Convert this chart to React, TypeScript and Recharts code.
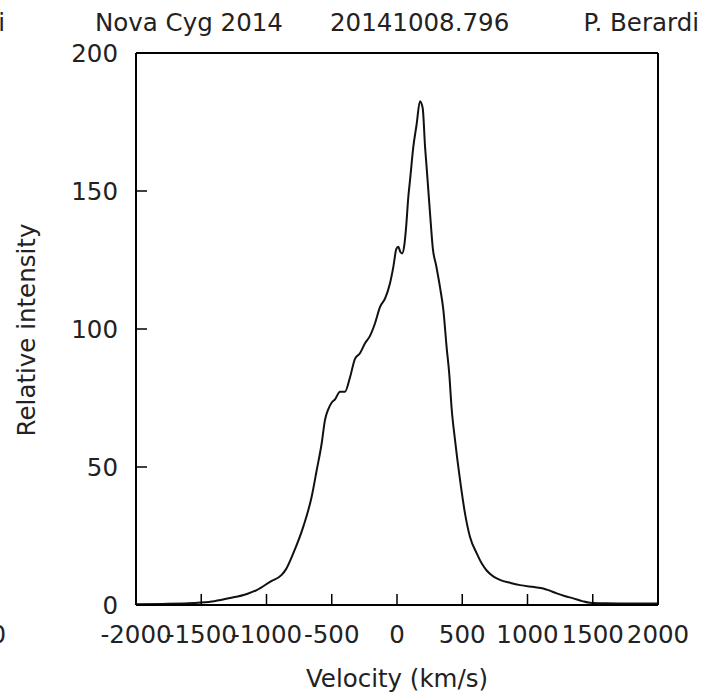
import React from 'react';
import { LineChart, Line, XAxis, YAxis } from 'recharts';

const velocity = [
  -2000, -1800, -1600, -1500, -1400, -1280, -1150, -1075, -973, -884, -850, -795, -718, -654, -615,
  -577, -552, -526, -501, -475, -437, -398, -360, -322, -284, -245, -207, -169, -130, -92, -54, -28,
  -5, 10, 25, 40, 55, 70, 87, 100, 125, 150, 176, 197, 215, 228, 253, 275, 300, 330, 355, 381, 400,
  419, 444, 483, 521, 559, 611, 650, 687, 740, 789, 870, 943, 1050, 1121, 1170, 1224, 1290, 1351,
  1420, 1479, 1600, 1800, 2000,
];

const intensity = [
  0.3, 0.4, 0.6, 0.9, 1.4, 2.5, 4.0, 5.4, 8.4, 10.9, 13, 18.7, 28.4, 39.2, 48.9,
  58.6, 67, 71, 73.3, 74.5, 77.3, 77.3, 82.5, 89.2, 91.2, 94.8, 97.5, 102, 108, 111, 116.5, 122.5,
  129, 129.8, 128, 127.4, 130, 137, 148, 154, 166, 174, 182.5, 180, 166, 158, 142, 129, 123, 115, 107, 93, 84,
  71, 60, 45.3, 33.2, 24.7, 18.7, 15, 12.5, 10.3, 9.1, 8, 7.2, 6.5, 6.0, 5.2, 4.2, 3.2, 2.4,
  1.4, 0.8, 0.6, 0.5, 0.5,
];

const xTicks = [-2000, -1500, -1000, -500, 0, 500, 1000, 1500, 2000];
const yTicks = [0, 50, 100, 150, 200];

const data = velocity.map((v, i) => ({ v, y: intensity[i] }));

const FONT = '"DejaVu Sans", Verdana, sans-serif';
const FS = 24.5;
const TEXT = '#222';
const TICK = 11;

const BottomTick = ({ x, y, payload }: any) => (
  <g>
    <line x1={x} y1={y} x2={x} y2={y - TICK} stroke="#000" strokeWidth={1.5} />
    <text x={x} y={y + 29} textAnchor="middle" dominantBaseline="central" fontFamily={FONT} fontSize={FS} fill={TEXT}>
      {payload.value}
    </text>
  </g>
);

const TopTick = ({ x, y }: any) => (
  <line x1={x} y1={y} x2={x} y2={y + TICK} stroke="#000" strokeWidth={1.5} />
);

const LeftTick = ({ x, y, payload }: any) => (
  <g>
    <line x1={x} y1={y} x2={x + TICK} y2={y} stroke="#000" strokeWidth={1.5} />
    <text x={x - 18} y={y} textAnchor="end" dominantBaseline="central" fontFamily={FONT} fontSize={FS} fill={TEXT}>
      {payload.value}
    </text>
  </g>
);

const RightTick = ({ x, y }: any) => (
  <line x1={x} y1={y} x2={x - TICK} y2={y} stroke="#000" strokeWidth={1.5} />
);

const axisLine = { stroke: '#000', strokeWidth: 2 };

export default function App() {
  return (
    <div style={{ position: 'absolute', left: 0, top: 0, width: 708, height: 693, background: '#fff' }}>
      <LineChart width={708} height={693} data={data} margin={{ top: 0, right: 0, bottom: 0, left: 0 }}>
        <XAxis
          xAxisId="b"
          dataKey="v"
          type="number"
          domain={[-2000, 2000]}
          ticks={xTicks}
          interval={0}
          height={88}
          tickSize={0}
          tickMargin={0}
          tickLine={false}
          axisLine={axisLine}
          tick={<BottomTick />}
        />
        <XAxis
          xAxisId="t"
          orientation="top"
          type="number"
          domain={[-2000, 2000]}
          ticks={xTicks}
          interval={0}
          height={53}
          tickSize={0}
          tickMargin={0}
          tickLine={false}
          axisLine={axisLine}
          tick={<TopTick />}
        />
        <YAxis
          yAxisId="l"
          type="number"
          domain={[0, 200]}
          ticks={yTicks}
          interval={0}
          width={136}
          tickSize={0}
          tickMargin={0}
          tickLine={false}
          axisLine={axisLine}
          tick={<LeftTick />}
        />
        <YAxis
          yAxisId="r"
          orientation="right"
          type="number"
          domain={[0, 200]}
          ticks={yTicks}
          interval={0}
          width={50}
          tickSize={0}
          tickMargin={0}
          tickLine={false}
          axisLine={axisLine}
          tick={<RightTick />}
        />
        <Line
          xAxisId="b"
          yAxisId="l"
          dataKey="y"
          type="monotone"
          stroke="#111"
          strokeWidth={2}
          dot={false}
          isAnimationActive={false}
        />
      </LineChart>
      <svg width={708} height={693} style={{ position: 'absolute', left: 0, top: 0, pointerEvents: 'none' }}>
        <g fontFamily={FONT} fontSize={FS} fill={TEXT}>
          <text x={5} y={31} textAnchor="end">i</text>
          <text x={95} y={31}>Nova Cyg 2014</text>
          <text x={330} y={31}>20141008.796</text>
          <text x={699} y={31} textAnchor="end">P. Berardi</text>
          <text x={6} y={634} textAnchor="end" dominantBaseline="central">0</text>
          <text x={397} y={678} textAnchor="middle" dominantBaseline="central">Velocity (km/s)</text>
          <text x={26} y={330} textAnchor="middle" dominantBaseline="central" transform="rotate(-90 26 330)">
            Relative intensity
          </text>
        </g>
      </svg>
    </div>
  );
}
